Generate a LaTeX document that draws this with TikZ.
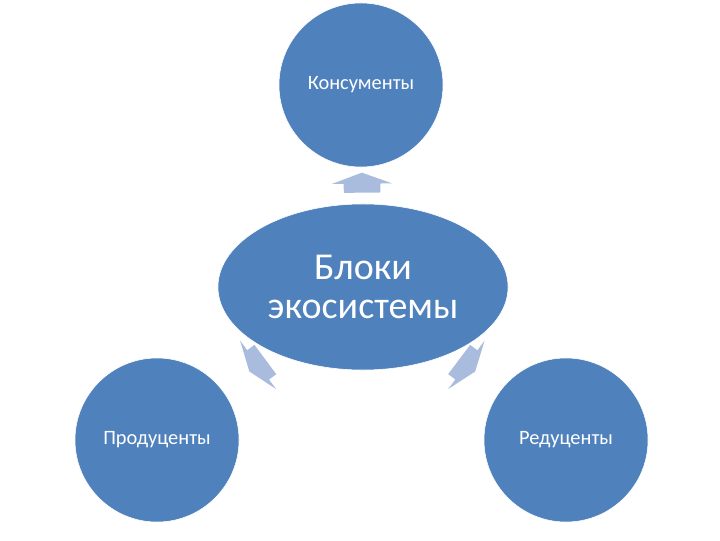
\documentclass[tikz,border=0pt]{standalone}
\usepackage{fontspec}
\setmainfont{Carlito}
\usetikzlibrary{calc, shapes.geometric, shapes.arrows}
\definecolor{blokfill}{HTML}{4F81BD}
\definecolor{strelka}{HTML}{A9BCDD}

\begin{document}
\begin{tikzpicture}[x=0.025cm, y=0.025cm,
	krug/.style={circle, fill=blokfill, draw=white, minimum size=4.1cm, text=white, font=\fontsize{14.5}{17}\selectfont},
	blok/.style={ellipse, fill=blokfill, draw=white, minimum width=7.25cm, minimum height=4.15cm, text=white, align=center, font=\fontsize{27}{28}\selectfont},
	strel/.style={single arrow, fill=strelka, inner xsep=0pt, inner ysep=0.45cm, minimum height=0.5cm, single arrow head extend=0.3cm, single arrow tip angle=140}]
	\useasboundingbox (0,0) rectangle (720,540);
	
	\node [blok] (centr) at (363,253) {Блоки\\экосистемы};
	\node [krug] (kons) at (361,455) {Консументы};
	\node [krug] (prod) at (157,100) {Продуценты};
	\node [krug] (red) at (566,100) {Редуценты};
	
	\path let \p1 = ($(kons)-(centr)$), \n1 = {atan2(\y1,\x1)} in
		node [strel, rotate=\n1] (s1) at ($(centr)!0.5!(kons)$) {};
	\path let \p1 = ($(prod)-(centr)$), \n1 = {atan2(\y1,\x1)} in
		node [strel, rotate=\n1] (s2) at ($(centr)!0.5!(prod)$) {};
	\path let \p1 = ($(red)-(centr)$), \n1 = {atan2(\y1,\x1)} in
		node [strel, rotate=\n1] (s3) at ($(centr)!0.5!(red)$) {};
\end{tikzpicture}
\end{document}
